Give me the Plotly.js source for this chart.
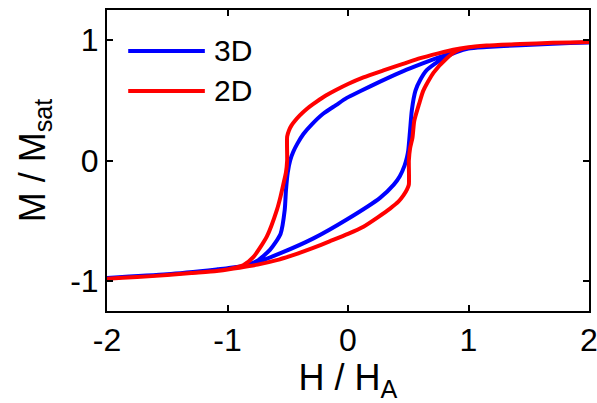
<!DOCTYPE html>
<html>
<head>
<meta charset="utf-8">
<script src="https://cdn.plot.ly/plotly-3.0.1.min.js"></script>
<style>html,body{margin:0;padding:0;background:#fff;}#chart{width:597px;height:403px;}</style>
</head>
<body>
<div id="chart"></div>
<script>
// 3D loop: descending branch (H from +2 to -2)
var h3dDesc = [2.0, 1.7, 1.43, 1.15, 1.0, 0.82, 0.653, 0.514, 0.43, 0.266, 0.10, -0.01, -0.10, -0.204, -0.30, -0.37, -0.42, -0.455, -0.48, -0.50, -0.515, -0.525, -0.56, -0.646, -0.756, -0.867, -1.0, -1.09, -1.5, -2.0];
var m3dDesc = [0.98, 0.97, 0.958, 0.942, 0.93, 0.88, 0.82, 0.765, 0.73, 0.655, 0.575, 0.52, 0.46, 0.39, 0.30, 0.22, 0.14, 0.07, 0.0, -0.10, -0.25, -0.41, -0.61, -0.74, -0.835, -0.875, -0.895, -0.905, -0.945, -0.975];
// 3D loop: ascending branch (H from -2 to +2)
var h3dAsc = [-2.0, -1.5, -1.09, -1.0, -0.81, -0.56, -0.287, -0.01, 0.266, 0.38, 0.43, 0.47, 0.49, 0.50, 0.515, 0.53, 0.56, 0.60, 0.653, 0.79, 0.90, 1.0, 1.15, 1.43, 1.7, 2.0];
var m3dAsc = [-0.975, -0.945, -0.905, -0.895, -0.865, -0.77, -0.647, -0.49, -0.31, -0.20, -0.13, -0.04, 0.03, 0.083, 0.25, 0.42, 0.58, 0.67, 0.75, 0.85, 0.90, 0.93, 0.942, 0.958, 0.97, 0.98];
// 2D loop: descending branch
var h2dDesc = [2.0, 1.7, 1.43, 1.15, 1.0, 0.874, 0.75, 0.6, 0.45, 0.3, 0.128, 0.0, -0.1, -0.2, -0.287, -0.34, -0.40, -0.44, -0.47, -0.49, -0.505, -0.505, -0.515, -0.535, -0.56, -0.59, -0.673, -0.784, -0.87, -1.0, -1.09, -1.3, -1.5, -1.75, -2.0];
var m2dDesc = [0.985, 0.977, 0.967, 0.955, 0.94, 0.92, 0.89, 0.85, 0.80, 0.75, 0.69, 0.635, 0.585, 0.53, 0.47, 0.43, 0.375, 0.33, 0.29, 0.25, 0.20, 0.0, -0.10, -0.19, -0.30, -0.41, -0.63, -0.80, -0.87, -0.905, -0.918, -0.935, -0.952, -0.968, -0.982];
// 2D loop: ascending branch
var h2dAsc = [-2.0, -1.75, -1.5, -1.3, -1.09, -1.0, -0.9, -0.75, -0.6, -0.425, -0.3, -0.148, 0.0, 0.128, 0.25, 0.349, 0.42, 0.46, 0.49, 0.505, 0.505, 0.515, 0.535, 0.55, 0.59, 0.625, 0.71, 0.82, 0.90, 1.0, 1.15, 1.43, 1.7, 2.0];
var m2dAsc = [-0.982, -0.968, -0.952, -0.935, -0.918, -0.905, -0.89, -0.865, -0.83, -0.775, -0.73, -0.67, -0.61, -0.55, -0.47, -0.40, -0.34, -0.29, -0.24, -0.20, 0.0, 0.10, 0.19, 0.33, 0.47, 0.58, 0.73, 0.85, 0.91, 0.94, 0.955, 0.967, 0.977, 0.985];

var seriesNames = ['3D', '2D'];
var seriesColors = ['#0000ff', '#ff0000'];
var xTicks = [-2, -1, 0, 1, 2];
var yTicks = [-1, 0, 1];

var FONT = 'Arial, "Liberation Sans", sans-serif';

var traces = [
  {x: h3dDesc.concat(h3dAsc), y: m3dDesc.concat(m3dAsc), mode: 'lines', name: seriesNames[0],
   line: {color: seriesColors[0], width: 4, shape: 'spline', smoothing: 0.6}},
  {x: h2dDesc.concat(h2dAsc), y: m2dDesc.concat(m2dAsc), mode: 'lines', name: seriesNames[1],
   line: {color: seriesColors[1], width: 4, shape: 'spline', smoothing: 0.6}}
];

var shapes = [], annotations = [];
var legY = [0.864, 0.731];
for (var i = 0; i < 2; i++) {
  shapes.push({type: 'line', xref: 'paper', yref: 'paper', x0: 0.044, x1: 0.203, y0: legY[i], y1: legY[i],
    line: {color: seriesColors[i], width: 4}});
  annotations.push({xref: 'paper', yref: 'paper', x: 0.218, y: legY[i], xanchor: 'left', yanchor: 'middle',
    text: seriesNames[i], showarrow: false, font: {family: FONT, size: 30, color: '#000'}});
}

var layout = {
  width: 597, height: 403,
  margin: {l: 107, r: 8, t: 10, b: 92},
  paper_bgcolor: '#fff', plot_bgcolor: '#fff',
  showlegend: false,
  font: {family: FONT, color: '#000'},
  xaxis: {range: [-2, 2], tickvals: xTicks, ticktext: xTicks.map(String), ticks: 'inside', ticklen: 6, tickwidth: 2,
    tickcolor: '#000', showline: true, linecolor: '#000', linewidth: 2, mirror: 'ticks', showgrid: false, zeroline: false,
    ticklabeloverflow: 'allow',
    tickfont: {family: FONT, size: 32}, title: {text: 'H / H<sub>A</sub>', font: {family: FONT, size: 36}, standoff: 8}},
  yaxis: {range: [-1.25, 1.25], tickvals: yTicks, ticktext: yTicks.map(String), ticks: 'inside', ticklen: 6, tickwidth: 2,
    tickcolor: '#000', showline: true, linecolor: '#000', linewidth: 2, mirror: 'ticks', showgrid: false, zeroline: false,
    tickfont: {family: FONT, size: 32}, title: {text: 'M / M<sub>sat</sub>', font: {family: FONT, size: 36}, standoff: 14}},
  shapes: shapes,
  annotations: annotations
};

Plotly.newPlot('chart', traces, layout, {displayModeBar: false, staticPlot: true});
</script>
</body>
</html>
